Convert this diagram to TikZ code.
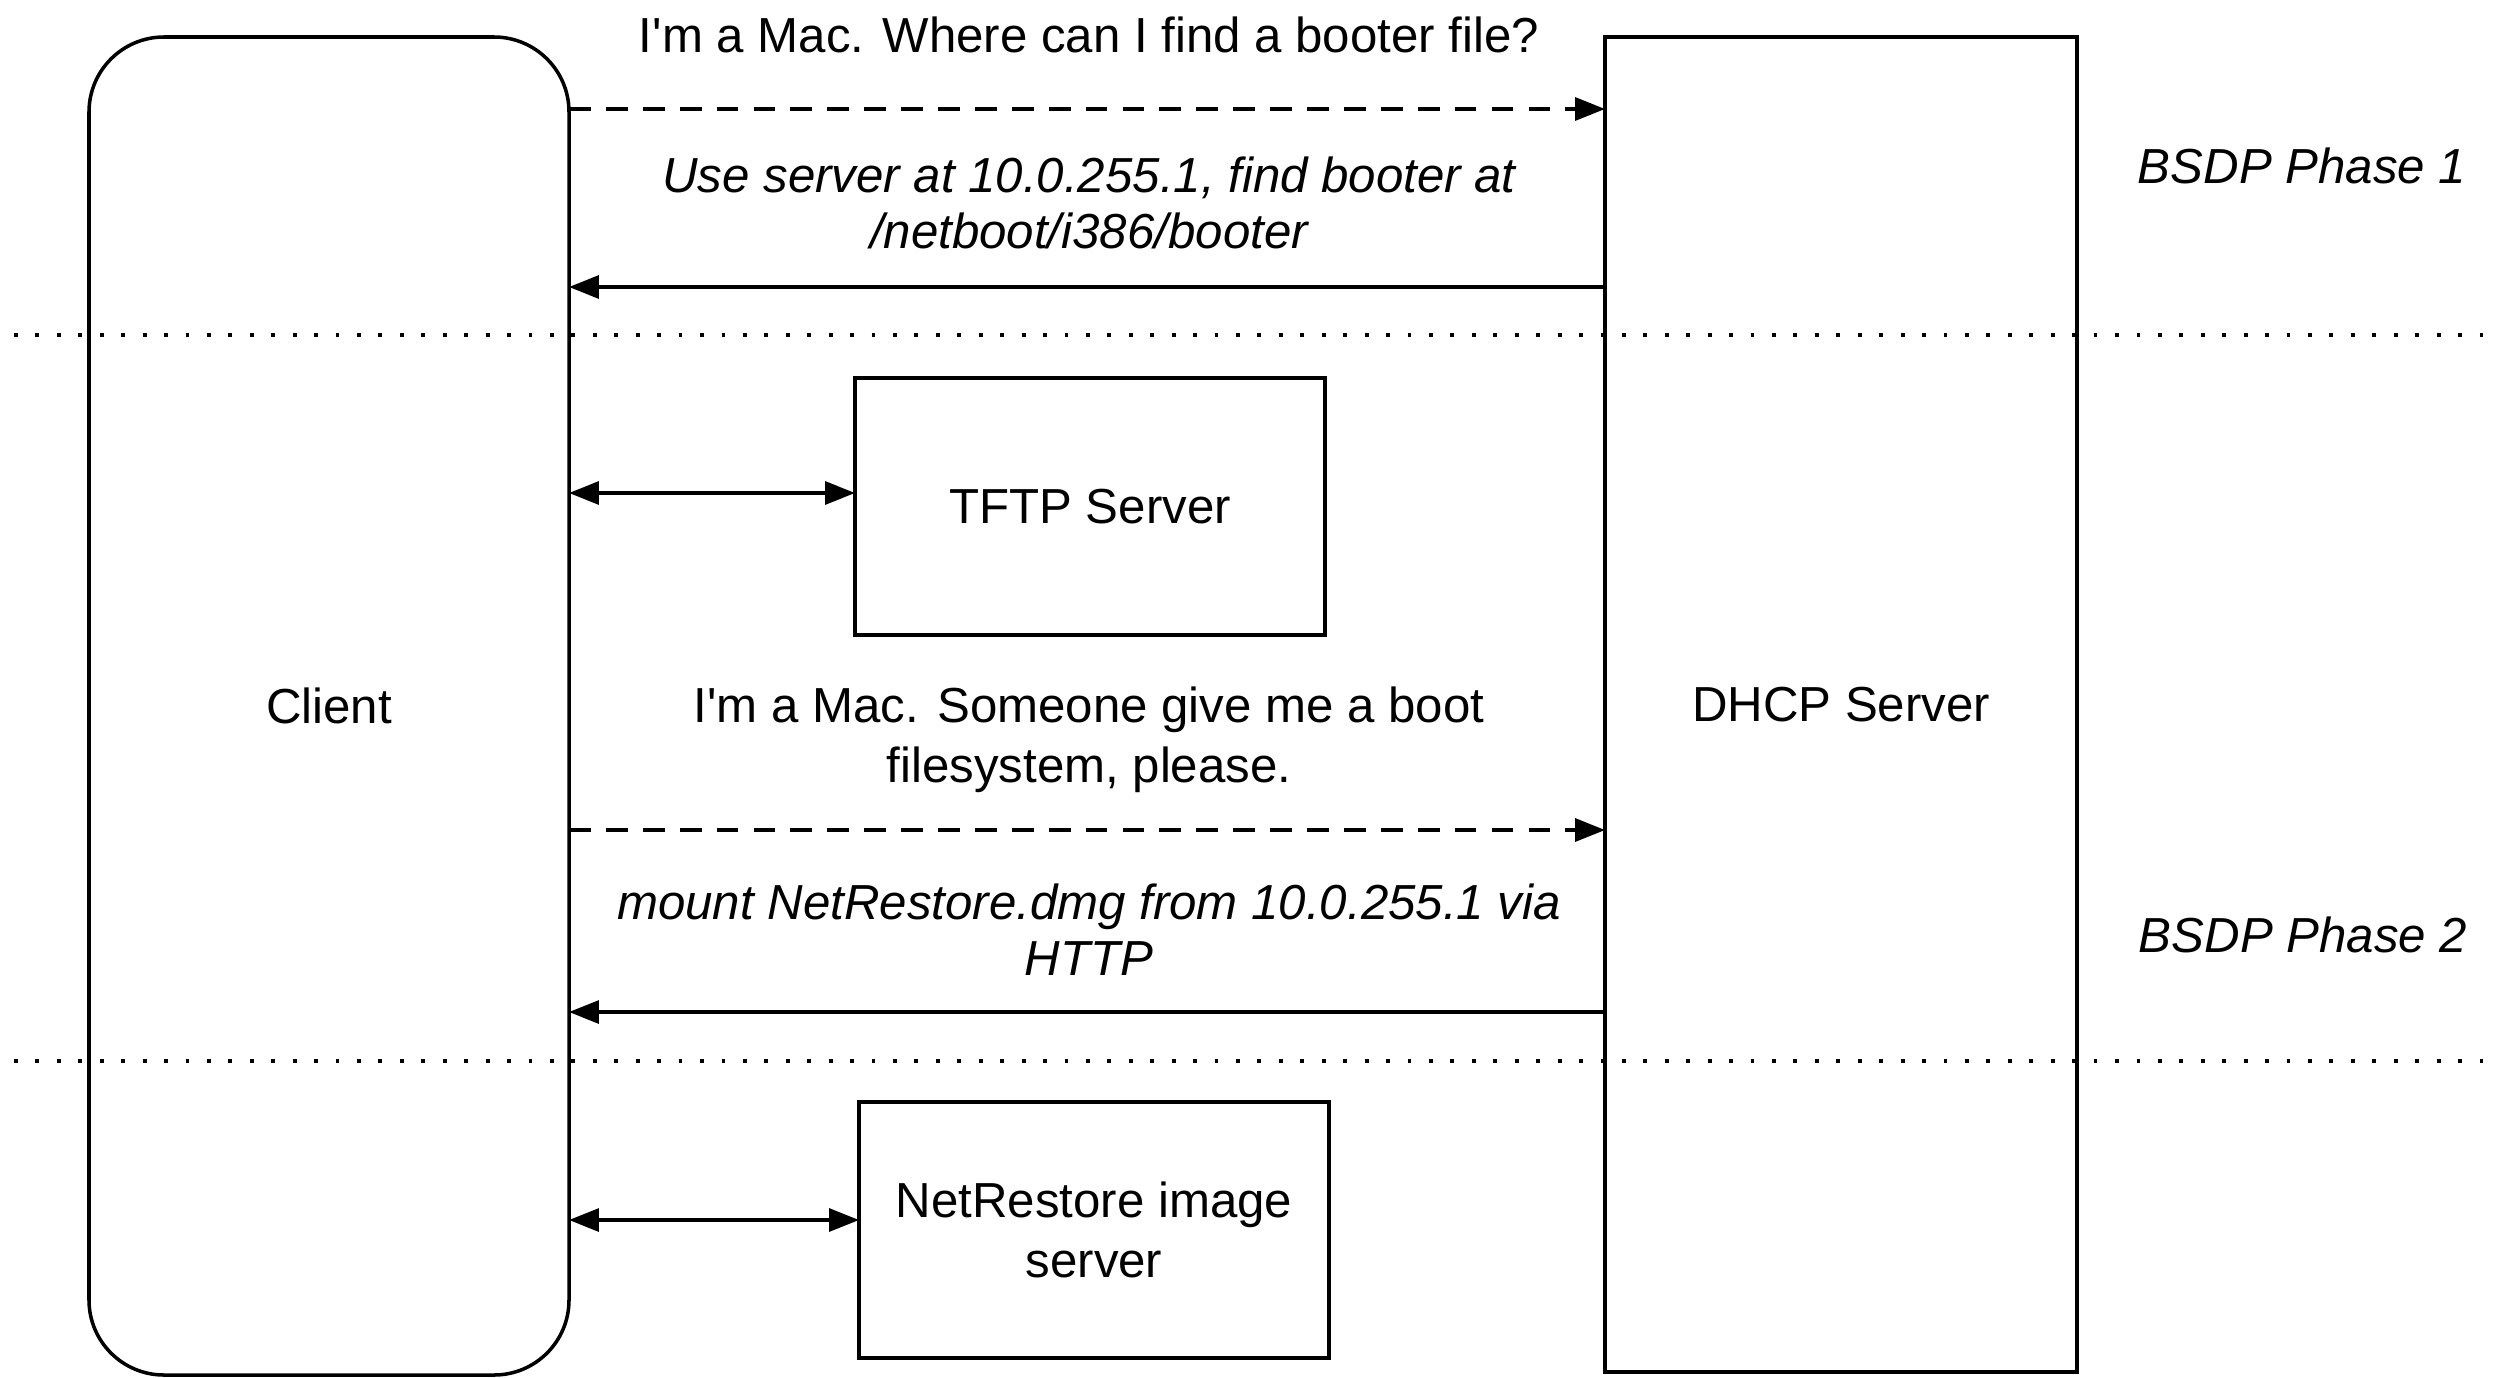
\documentclass[tikz,border=0pt]{standalone}
\usepackage{fontspec}
\setmainfont{Liberation Sans}
\usetikzlibrary{arrows.meta}

\begin{document}
\begin{tikzpicture}[
        font=\fontsize{14}{17}\selectfont,
        box/.style={draw, line width=1pt, inner sep=0pt, outer sep=0pt, align=center},
        reply/.style={line width=1pt, -{Triangle[length=8.5pt,width=6.5pt]}},
        request/.style={reply, dash pattern=on 6.2pt off 4.3pt},
        transfer/.style={line width=1pt, {Triangle[length=8.5pt,width=6.5pt]}-{Triangle[length=8.5pt,width=6.5pt]}},
        phaseline/.style={line width=1.1pt, dash pattern=on 1.1pt off 5pt},
        msgtext/.style={anchor=base, align=center},
        replytext/.style={anchor=base, align=center, font=\fontsize{14}{15.7}\selectfont\itshape}
    ]
            \useasboundingbox (0,0) rectangle (25.01,-13.77);

            % machines
            \node[box, rounded corners=0.75cm, minimum width=4.8cm, minimum height=13.38cm] (client) at (3.29,-7.06) {Client};
            \node[box, minimum width=4.72cm, minimum height=13.35cm] (dhcp) at (18.41,-7.045) {DHCP Server};
            \node[box, minimum width=4.7cm, minimum height=2.57cm] (tftp) at (10.90,-5.065) {TFTP Server};
            \node[box, minimum width=4.7cm, minimum height=2.56cm] (image) at (10.94,-12.30) {NetRestore image\\server};

            % phase 1 (base of a two-line text is its last line)
            \node[msgtext] (ask1) at (10.89,-0.53) {I\textquotesingle m a Mac. Where can I find a booter file?};
            \draw[request] (client.east |- 0,-1.09) -- (dhcp.west |- 0,-1.09);
            \node[replytext] (answer1) at (10.89,-2.48) {Use server at 10.0.255.1, find booter at\\/netboot/i386/booter};
            \draw[reply] (dhcp.west |- 0,-2.87) -- (client.east |- 0,-2.87);
            \node[font=\fontsize{14}{16}\selectfont\itshape, anchor=base] (phase1) at (23.02,-1.83) {BSDP Phase 1};

            \draw[phaseline] (0.14,-3.35) -- (25.01,-3.35);

            % phase 2
            \draw[transfer] (client.east |- 0,-4.93) -- (tftp.west |- 0,-4.93);
            \node[msgtext] (ask2) at (10.89,-7.82) {I\textquotesingle m a Mac. Someone give me a boot\\filesystem, please.};
            \draw[request] (client.east |- 0,-8.30) -- (dhcp.west |- 0,-8.30);
            \node[replytext] (answer2) at (10.89,-9.75) {mount NetRestore.dmg from 10.0.255.1 via\\HTTP};
            \draw[reply] (dhcp.west |- 0,-10.12) -- (client.east |- 0,-10.12);
            \node[font=\fontsize{14}{16}\selectfont\itshape, anchor=base] (phase2) at (23.03,-9.52) {BSDP Phase 2};

            \draw[phaseline] (0.14,-10.61) -- (25.01,-10.61);

            \draw[transfer] (client.east |- 0,-12.20) -- (image.west |- 0,-12.20);
\end{tikzpicture}
\end{document}
